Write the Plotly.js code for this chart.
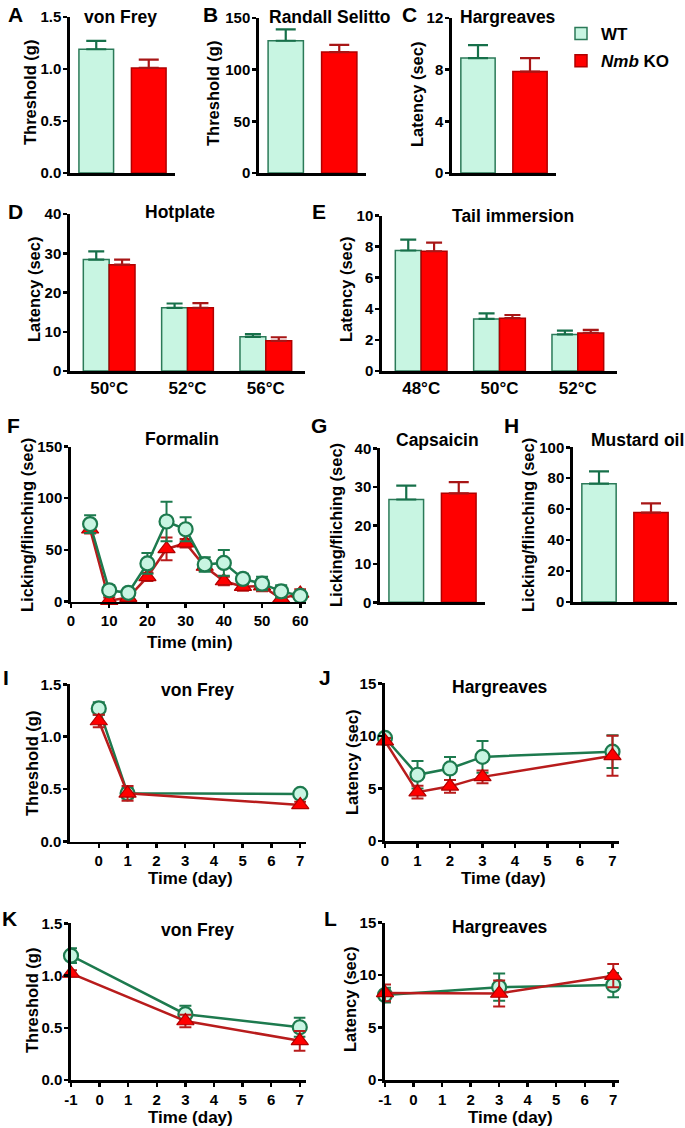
<!DOCTYPE html>
<html><head><meta charset="utf-8">
<script src="https://cdn.plot.ly/plotly-3.0.1.min.js"></script>
<style>body{margin:0;background:#fff}#chart{width:685px;height:1128px}</style>
</head><body><div id="chart"></div>
<script>
// ---------- DATA ----------
const genotypes = ['WT', 'Nmb KO'];
const legendNames = ['WT', '<i>Nmb</i> KO'];

const vonFreyA = [1.19, 1.01];
const vonFreyA_err = [0.08, 0.08];
const randallB = [128, 117];
const randallB_err = [11, 7];
const hargC = [8.9, 7.85];
const hargC_err = [1.0, 1.05];

const hotTemps = ['50°C', '52°C', '56°C'];
const hotWT = [28.4, 16.1, 8.7];
const hotWT_err = [2.1, 1.1, 0.7];
const hotKO = [27.1, 16.1, 7.7];
const hotKO_err = [1.3, 1.2, 0.9];

const tailTemps = ['48°C', '50°C', '52°C'];
const tailWT = [7.75, 3.35, 2.35];
const tailWT_err = [0.7, 0.35, 0.25];
const tailKO = [7.7, 3.4, 2.45];
const tailKO_err = [0.55, 0.2, 0.2];

const formTime = [5, 10, 15, 20, 25, 30, 35, 40, 45, 50, 55, 60];
const formWT = [75, 11, 8.6, 37, 77.5, 70, 36, 37.5, 22, 17.5, 10, 5.7];
const formWT_err = [8.5, 5, 3, 10, 19, 11.5, 7, 12.5, 5, 6.5, 6, 3];
const formKO = [70, 1, 4, 24, 51, 56.5, 34, 20, 14.5, 15, 3, 8];
const formKO_err = [4, 3, 3, 4, 11, 4, 4, 4, 4, 5, 4, 4];

const capsG = [26.7, 28.3];
const capsG_err = [3.6, 2.9];
const mustardH = [76.5, 57.8];
const mustardH_err = [8, 6];

const dayI = [0, 1, 7];
const vfI_WT = [1.27, 0.46, 0.455];
const vfI_WT_err = [0.06, 0.05, 0.02];
const vfI_KO = [1.15, 0.46, 0.35];
const vfI_KO_err = [0.06, 0.07, 0.03];

const dayJ = [0, 1, 2, 3, 7];
const hgJ_WT = [9.8, 6.3, 6.9, 8.0, 8.5];
const hgJ_WT_err = [0.3, 1.3, 1.1, 1.5, 1.55];
const hgJ_KO = [9.5, 4.65, 5.2, 6.1, 8.1];
const hgJ_KO_err = [0.3, 0.6, 0.6, 0.6, 1.9];

const dayKL = [-1, 3, 7];
const vfK_WT = [1.19, 0.63, 0.505];
const vfK_WT_err = [0.07, 0.08, 0.09];
const vfK_KO = [1.02, 0.565, 0.375];
const vfK_KO_err = [0.03, 0.06, 0.095];
const hgL_WT = [8.1, 8.85, 9.05];
const hgL_WT_err = [0.7, 1.3, 1.15];
const hgL_KO = [8.3, 8.25, 9.95];
const hgL_KO_err = [0.8, 1.25, 1.1];

const dayTicksIJ = [0, 1, 2, 3, 4, 5, 6, 7];
const dayTicksKL = [-1, 0, 1, 2, 3, 4, 5, 6, 7];
const minTicks = [0, 10, 20, 30, 40, 50, 60];

// ---------- STYLE ----------
const W = 685, H = 1128;
const FONT = 'Liberation Sans, Arial, sans-serif';
const WT_FILL = '#c8f5e2', WT_EDGE = '#2b7a58', WT_ERR = '#17704a', WT_LINE = '#1d7a4e';
const KO_FILL = '#ff0000', KO_EDGE = '#b00000', KO_ERR = '#a81616', KO_LINE = '#b81c1c';
const tickFont = {family: FONT, size: 15, color: '#000', weight: 'bold'};
const px = v => v / W, py = v => 1 - v / H;

const layout = {
  width: W, height: H, margin: {l: 0, r: 0, t: 0, b: 0},
  paper_bgcolor: '#fff', plot_bgcolor: 'rgba(0,0,0,0)',
  barmode: 'group', showlegend: true,
  legend: {x: px(561), y: py(16), xanchor: 'left', yanchor: 'top',
           font: {family: FONT, size: 17, color: '#000', weight: 'bold'},
           bgcolor: 'rgba(0,0,0,0)', tracegroupgap: 2},
  annotations: []
};
const traces = [];

function axes(n, xd, yd, xopt, yopt) {
  const xs = n === 1 ? '' : n, ax = 'x' + xs, ay = 'y' + xs;
  layout['xaxis' + xs] = Object.assign({
    domain: [px(xd[0]), px(xd[1])], anchor: ay,
    showline: true, linecolor: '#000', linewidth: 2.7, showgrid: false, zeroline: false,
    ticks: '', tickfont: tickFont, fixedrange: true
  }, xopt);
  layout['yaxis' + xs] = Object.assign({
    domain: [py(yd[1]), py(yd[0])], anchor: ax,
    showline: true, linecolor: '#000', linewidth: 2.7, showgrid: false, zeroline: false,
    ticks: 'outside', ticklen: 4, tickwidth: 2.5, tickcolor: '#000', tickfont: tickFont,
    ticklabelstandoff: -1, fixedrange: true
  }, yopt);
  return [ax, ay];
}
function ann(text, x, y, size, extra) {
  layout.annotations.push(Object.assign({
    text: text, xref: 'paper', yref: 'paper', x: px(x), y: py(y),
    xanchor: 'center', yanchor: 'middle', showarrow: false,
    font: {family: FONT, size: size, color: '#000', weight: 'bold'}
  }, extra || {}));
}
function ytitle(text, x, y) { ann(text, x, y, 16.5, {textangle: -90}); }
function upErr(errs, color, w) {
  return {type: 'data', symmetric: false, array: errs, arrayminus: errs.map(() => 0),
          color: color, thickness: 2.2, width: w};
}
function symErr(errs, color, w) {
  return {type: 'data', array: errs, color: color, thickness: 2, width: w};
}

function twoBar(n, xd, yd, vals, errs, yopt, legend) {
  const [ax, ay] = axes(n, xd, yd,
    {type: 'category', range: [-0.5, 1.5], showticklabels: false}, yopt);
  const fills = [WT_FILL, KO_FILL], edges = [WT_EDGE, KO_EDGE], ecol = [WT_ERR, KO_ERR];
  genotypes.forEach((g, i) => {
    traces.push({type: 'bar', x: [g], y: [vals[i]], xaxis: ax, yaxis: ay,
      width: 0.66, offset: -0.33, name: legendNames[i], showlegend: !!legend,
      legendgroup: g,
      marker: {color: fills[i], line: {color: edges[i], width: 1.5}},
      error_y: upErr([errs[i]], ecol[i], 10)});
  });
}
function groupBar(n, xd, yd, cats, wt, wtE, ko, koE, yopt) {
  const [ax, ay] = axes(n, xd, yd,
    {type: 'category', range: [-0.5, 2.5], tickfont: Object.assign({}, tickFont, {size: 17})}, yopt);
  traces.push({type: 'bar', x: cats, y: wt, xaxis: ax, yaxis: ay, width: 0.33, offset: -0.33,
    showlegend: false, marker: {color: WT_FILL, line: {color: WT_EDGE, width: 1.5}},
    error_y: upErr(wtE, WT_ERR, 8)});
  traces.push({type: 'bar', x: cats, y: ko, xaxis: ax, yaxis: ay, width: 0.33, offset: 0,
    showlegend: false, marker: {color: KO_FILL, line: {color: KO_EDGE, width: 1.5}},
    error_y: upErr(koE, KO_ERR, 8)});
}
function wtLine(ax, ay, x, y, e, w) {
  return {type: 'scatter', mode: 'lines+markers', x: x, y: y, xaxis: ax, yaxis: ay,
    showlegend: false, cliponaxis: false,
    line: {color: WT_LINE, width: 2.5},
    marker: {symbol: 'circle', size: 14, color: WT_FILL, line: {color: WT_LINE, width: 2.2}},
    error_y: symErr(e, WT_LINE, w)};
}
function koLine(ax, ay, x, y, e, w) {
  return {type: 'scatter', mode: 'lines+markers', x: x, y: y, xaxis: ax, yaxis: ay,
    showlegend: false, cliponaxis: false,
    line: {color: KO_LINE, width: 2.5},
    marker: {symbol: 'triangle-up', size: 15, color: KO_FILL, line: {color: KO_EDGE, width: 1.2}},
    error_y: symErr(e, KO_LINE, w)};
}
function xTicks(vals, range) {
  return {range: range, tickmode: 'array', tickvals: vals, ticktext: vals.map(String),
          ticks: 'outside', ticklen: 4, tickwidth: 2.5, tickcolor: '#000'};
}

// ---------- PANELS ----------
twoBar(1, [70, 175], [17, 173], vonFreyA, vonFreyA_err,
  {range: [0, 1.5], dtick: 0.5, tickformat: '.1f'}, true);
twoBar(2, [259, 366], [18, 173], randallB, randallB_err, {range: [0, 150], dtick: 50});
twoBar(3, [452, 556], [18, 173], hargC, hargC_err, {range: [0, 12], dtick: 4});
groupBar(4, [70, 305], [214, 371], hotTemps, hotWT, hotWT_err, hotKO, hotKO_err,
  {range: [0, 40], dtick: 10});
groupBar(5, [382, 617], [215.5, 371], tailTemps, tailWT, tailWT_err, tailKO, tailKO_err,
  {range: [0, 10], dtick: 2});
(function () {
  const [ax, ay] = axes(6, [71, 306], [446.5, 601.7], xTicks(minTicks, [0, 61.5]),
    {range: [0, 150], dtick: 50});
  traces.push(koLine(ax, ay, formTime, formKO, formKO_err, 6));
  traces.push(wtLine(ax, ay, formTime, formWT, formWT_err, 6));
})();
twoBar(7, [380, 485], [448.3, 602.3], capsG, capsG_err, {range: [0, 40], dtick: 10});
twoBar(8, [573, 677], [447.3, 602], mustardH, mustardH_err, {range: [0, 100], dtick: 20});
(function () {
  const [ax, ay] = axes(9, [70, 306], [684.3, 841.6], xTicks(dayTicksIJ, [-1, 7.2]),
    {range: [0, 1.5], dtick: 0.5, tickformat: '.1f'});
  traces.push(wtLine(ax, ay, dayI, vfI_WT, vfI_WT_err, 6));
  traces.push(koLine(ax, ay, dayI, vfI_KO, vfI_KO_err, 6));
})();
(function () {
  const [ax, ay] = axes(10, [385, 619], [683.3, 841], xTicks(dayTicksIJ, [0, 7.2]),
    {range: [0, 15], dtick: 5});
  traces.push(wtLine(ax, ay, dayJ, hgJ_WT, hgJ_WT_err, 6));
  traces.push(koLine(ax, ay, dayJ, hgJ_KO, hgJ_KO_err, 6));
})();
(function () {
  const [ax, ay] = axes(11, [71, 305.5], [923.3, 1080], xTicks(dayTicksKL, [-1, 7.2]),
    {range: [0, 1.5], dtick: 0.5, tickformat: '.1f'});
  traces.push(wtLine(ax, ay, dayKL, vfK_WT, vfK_WT_err, 6));
  traces.push(koLine(ax, ay, dayKL, vfK_KO, vfK_KO_err, 6));
})();
(function () {
  const [ax, ay] = axes(12, [385, 619], [922.7, 1080], xTicks(dayTicksKL, [-1, 7.2]),
    {range: [0, 15], dtick: 5});
  traces.push(wtLine(ax, ay, dayKL, hgL_WT, hgL_WT_err, 6));
  traces.push(koLine(ax, ay, dayKL, hgL_KO, hgL_KO_err, 6));
})();

// ---------- TEXT ----------
const letters = [['A', 16, 14], ['B', 210, 14], ['C', 409, 14], ['D', 15, 211], ['E', 319, 211],
  ['F', 13, 426], ['G', 319, 426], ['H', 512, 426], ['I', 6, 677], ['J', 325, 677],
  ['K', 9, 918], ['L', 330, 918]];
letters.forEach(l => ann(l[0], l[1], l[2], 21));

const titles = [['von Frey', 120, 17], ['Randall Selitto', 330, 17], ['Hargreaves', 508, 17],
  ['Hotplate', 180, 212], ['Tail immersion', 513, 216], ['Formalin', 182, 439],
  ['Capsaicin', 437, 440], ['Mustard oil', 637, 440], ['von Frey', 197, 690],
  ['Hargreaves', 500, 687], ['von Frey', 197, 930], ['Hargreaves', 500, 927]];
titles.forEach(t => ann(t[0], t[1], t[2], 17.5));

const ytitles = [['Threshold (g)', 30, 93], ['Threshold (g)', 213, 93], ['Latency (sec)', 417, 95],
  ['Latency (sec)', 34, 290], ['Latency (sec)', 346, 290], ['Licking/flinching (sec)', 27, 525],
  ['Licking/fliching (sec)', 336, 525], ['Licking/flinching (sec)', 528, 525],
  ['Threshold (g)', 32, 763], ['Latency (sec)', 352, 763], ['Threshold (g)', 32, 1000],
  ['Latency (sec)', 350, 1000]];
ytitles.forEach(t => ytitle(t[0], t[1], t[2]));

const xtitles = [['Time (min)', 190, 642], ['Time (day)', 190, 878], ['Time (day)', 503, 878],
  ['Time (day)', 190, 1117], ['Time (day)', 510, 1117]];
xtitles.forEach(t => ann(t[0], t[1], t[2], 17));

Plotly.newPlot('chart', traces, layout, {staticPlot: true, displayModeBar: false});
</script>
</body></html>
